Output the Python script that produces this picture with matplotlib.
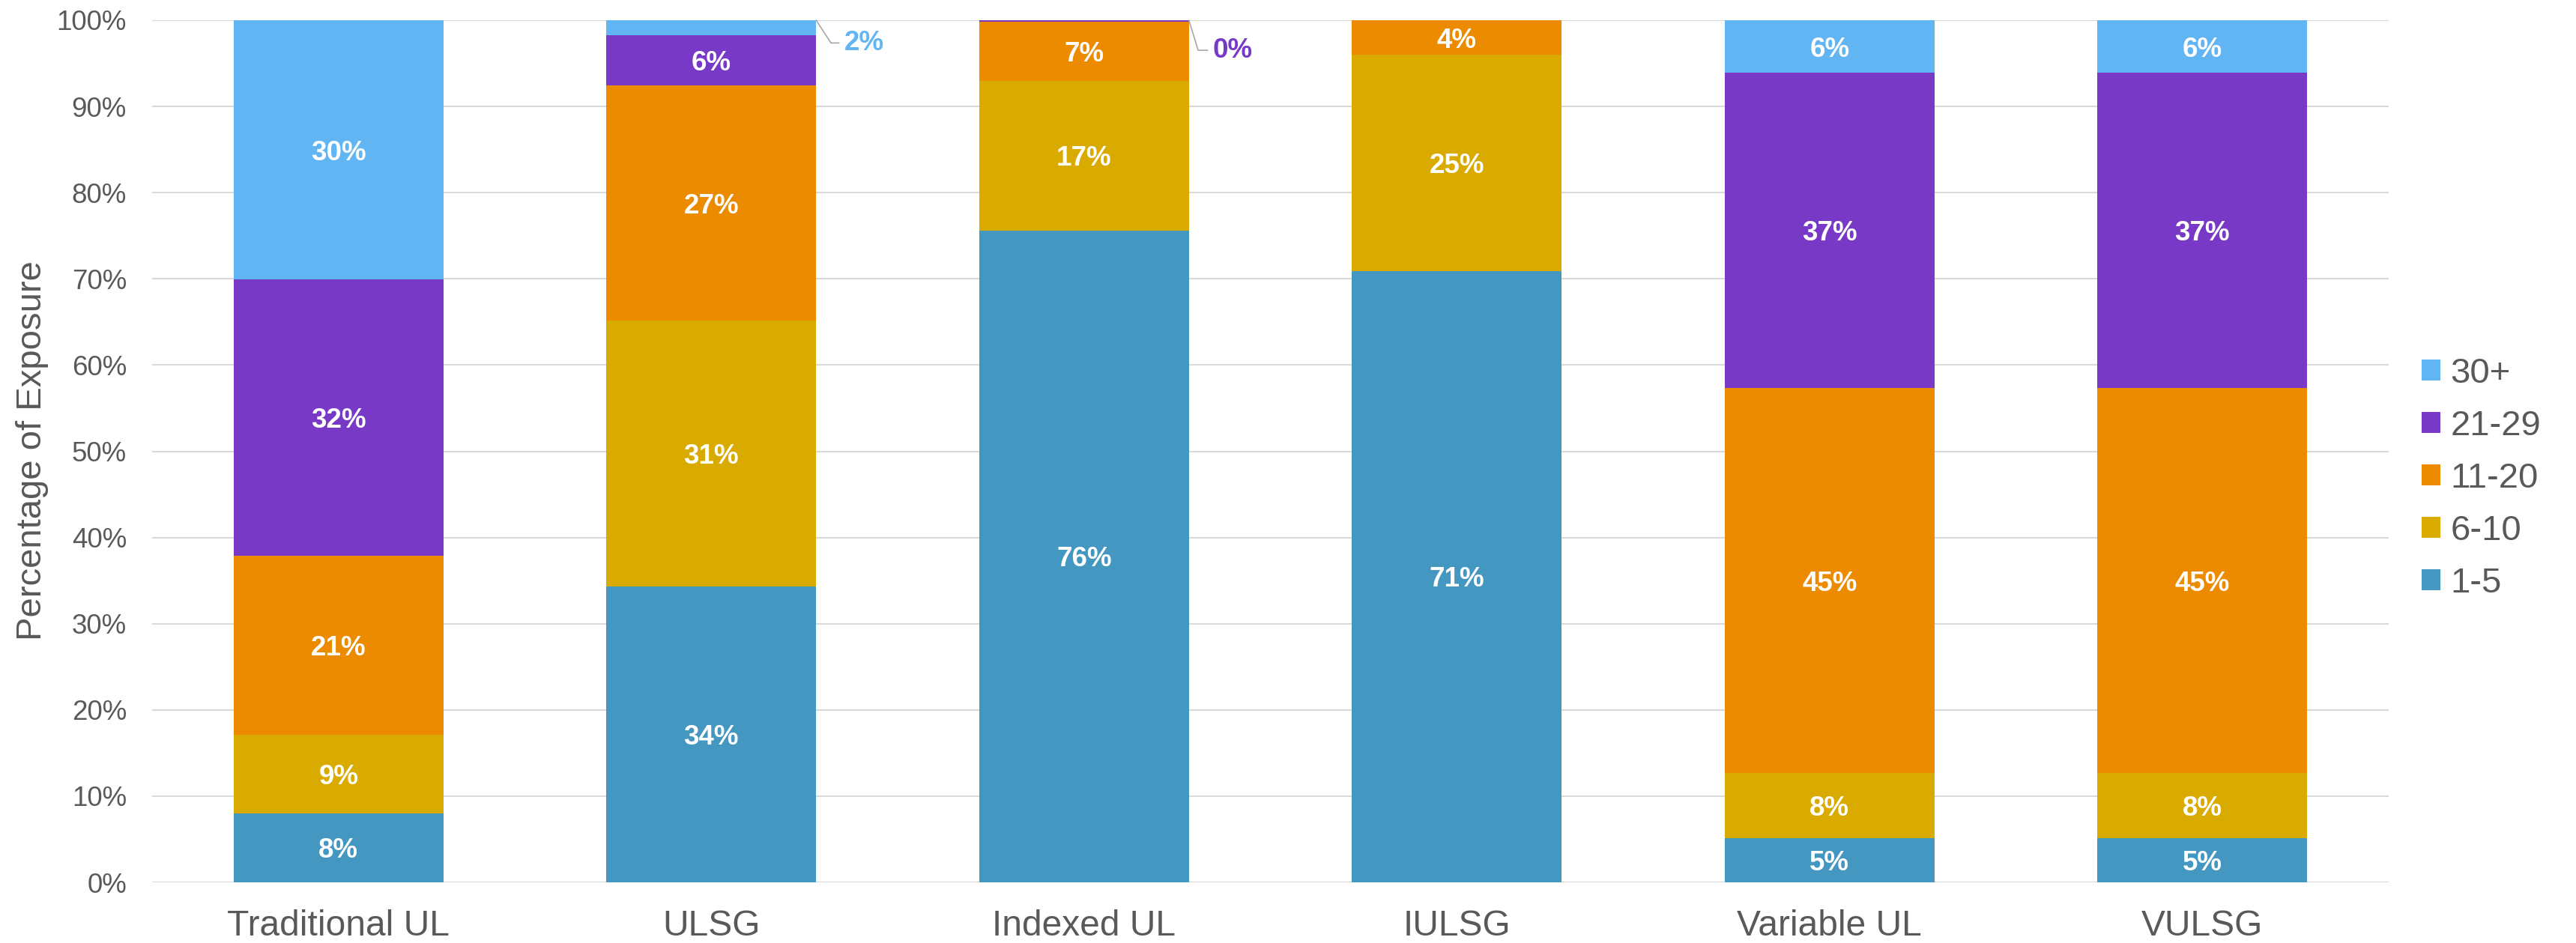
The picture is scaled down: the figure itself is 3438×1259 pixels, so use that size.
import matplotlib
matplotlib.use("Agg")
import matplotlib.pyplot as plt
import numpy as np
from matplotlib.ticker import PercentFormatter

plt.rcParams['font.family'] = ['Liberation Sans', 'DejaVu Sans']

# Product categories along the x axis
categories = ["Traditional UL", "ULSG", "Indexed UL", "IULSG", "Variable UL", "VULSG"]

# Share of exposure (%) by policy duration band, one list per band
band_1_5 = [8.0, 34.3, 75.6, 70.9, 5.1, 5.1]
band_6_10 = [9.1, 30.9, 17.4, 25.1, 7.6, 7.6]
band_11_20 = [20.8, 27.2, 6.8, 4.0, 44.6, 44.6]
band_21_29 = [32.0, 5.9, 0.2, 0.0, 36.6, 36.6]
band_30_plus = [30.1, 1.7, 0.0, 0.0, 6.1, 6.1]

band_names = ["1-5", "6-10", "11-20", "21-29", "30+"]
band_colors = ["#4397C0", "#D9AA00", "#EC8A00", "#7739C6", "#62B5F3"]

# Small segments labelled outside the bar with a leader line:
# (category index, band index, offset in points, leader angle at the bar)
outside_labels = [(1, 4, (27, -19), 123), (2, 3, (23, -26), 107)]

series = [band_1_5, band_6_10, band_11_20, band_21_29, band_30_plus]

W, H = 3438, 1259
fig = plt.figure(figsize=(W / 100, H / 100), dpi=100)
ax = fig.add_axes([203 / W, 1 - 1178 / H, (3188 - 203) / W, (1178 - 27) / H])

x = np.arange(len(categories))
width = 0.563
text_gray = "#595959"

bottom = np.zeros(len(categories))
bars = []
for vals, name, color in zip(series, band_names, band_colors):
    vals = np.array(vals)
    b = ax.bar(x, vals, width, bottom=bottom, color=color, label=name,
               linewidth=0, zorder=3)
    bars.append(b)
    bottom = bottom + vals

outside_set = {(c, s) for c, s, _, _ in outside_labels}

# Value labels centred inside each segment
cum = np.zeros(len(categories))
for si, vals in enumerate(series):
    for ci, v in enumerate(vals):
        if v > 0 and (ci, si) not in outside_set:
            ax.text(x[ci], cum[ci] + v / 2, f"{v:.0f}%", ha="center",
                    va="center_baseline", color="white", fontsize=26.5,
                    fontweight="bold", zorder=4)
    cum = cum + np.array(vals)

# Leader-line labels for thin segments
for ci, si, offset, ang in outside_labels:
    top = sum(series[k][ci] for k in range(si + 1))
    v = series[si][ci]
    ax.annotate(f"{v:.0f}%", xy=(x[ci] + width / 2, top), xytext=offset,
                textcoords="offset points", ha="left", va="center_baseline",
                color=band_colors[si], fontsize=26.5, fontweight="bold",
                annotation_clip=False,
                arrowprops=dict(arrowstyle="-", color="#A6A6A6", lw=1.2,
                                shrinkA=3, shrinkB=0, relpos=(0, 0.5),
                                connectionstyle=f"angle,angleA=0,angleB={ang},rad=0"))

ax.set_xlim(-0.5, len(categories) - 0.5)
ax.set_ylim(0, 100)
ax.set_yticks(np.arange(0, 101, 10))
ax.yaxis.set_major_formatter(PercentFormatter(decimals=0))
ax.set_xticks(x)
ax.set_xticklabels(categories)
ax.grid(axis="y", color="#D9D9D9", linewidth=1.5, zorder=0)
ax.set_axisbelow(True)
for sp in ax.spines.values():
    sp.set_visible(False)
ax.tick_params(axis="y", length=0, pad=24.5, labelsize=26.5, labelcolor=text_gray)
ax.tick_params(axis="x", length=0, pad=26, labelsize=34.5, labelcolor=text_gray)

fig.text(43 / W, 1 - 602 / H, "Percentage of Exposure", rotation=90,
         ha="center", va="center", fontsize=34, color=text_gray)

handles = bars[::-1]
labels = band_names[::-1]
leg = fig.legend(handles, labels, loc="center left",
                 bbox_to_anchor=(3232 / W, 1 - 639 / H), frameon=False,
                 fontsize=34, handlelength=0.53, handleheight=0.53,
                 handletextpad=0.28, labelspacing=0.55, borderpad=0,
                 borderaxespad=0)
for t in leg.get_texts():
    t.set_color(text_gray)

fig.savefig("out.png", dpi=100, facecolor="white")
